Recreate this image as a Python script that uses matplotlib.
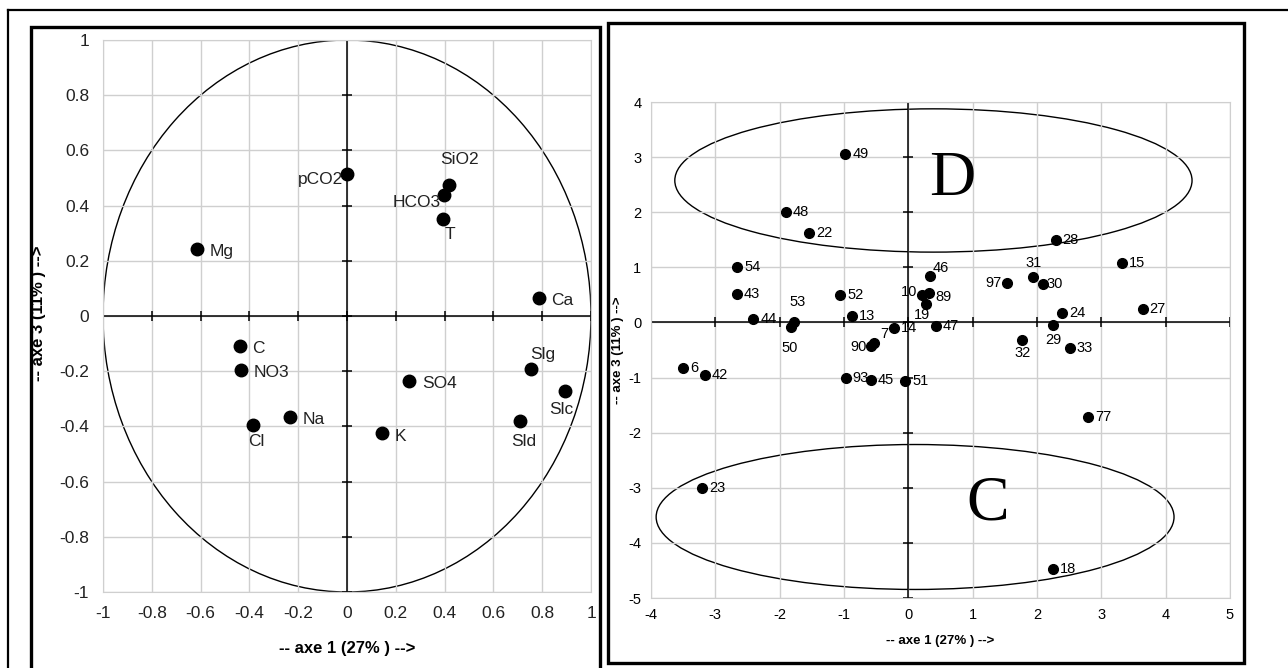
# -*- coding: utf-8 -*-
import numpy as np
import matplotlib
matplotlib.use('Agg')
import matplotlib.pyplot as plt
from matplotlib.patches import Circle, Ellipse, Rectangle
from matplotlib.lines import Line2D

plt.rcParams['font.family'] = ['Liberation Sans', 'DejaVu Sans']
plt.rcParams['axes.unicode_minus'] = False

# --- cercle des correlations (axe 1 / axe 3)
var_names = ['pCO2', 'SiO2', 'HCO3', 'T', 'Mg', 'Ca', 'C', 'NO3', 'SO4',
             'Slg', 'Slc', 'Sld', 'Na', 'Cl', 'K']
var_x = [0.00, 0.417, 0.396, 0.392, -0.614, 0.786, -0.439, -0.434, 0.255,
         0.753, 0.895, 0.708, -0.232, -0.384, 0.145]
var_y = [0.515, 0.476, 0.438, 0.351, 0.243, 0.065, -0.109, -0.194, -0.234,
         -0.191, -0.273, -0.381, -0.365, -0.394, -0.425]
# decalage des etiquettes (points) et alignement
var_off = {'pCO2': (-3, -4, 'right'), 'SiO2': (8, 18, 'center'),
           'HCO3': (-2, -5, 'right'), 'T': (5, -11, 'center'),
           'Cl': (2, -12, 'center'), 'Slg': (9, 10, 'center'),
           'Slc': (-3, -13, 'center'), 'Sld': (3, -15, 'center')}
ticks1 = [-1, -0.8, -0.6, -0.4, -0.2, 0, 0.2, 0.4, 0.6, 0.8, 1]

# --- individus (axe 1 / axe 3)
ind_names = ['49', '48', '22', '28', '54', '15', '46', '31', '97', '30', '43',
             '52', '10', '89', '19', '27', '24', '13', '44', '53', '50', '14',
             '47', '29', '7', '90', '32', '33', '6', '42', '93', '45', '51',
             '77', '23', '18']
ind_x = [-0.98, -1.90, -1.54, 2.29, -2.66, 3.32, 0.33, 1.94, 1.54, 2.09, -2.67,
         -1.06, 0.22, 0.32, 0.28, 3.64, 2.39, -0.87, -2.41, -1.77, -1.83, -0.22,
         0.43, 2.25, -0.53, -0.58, 1.77, 2.51, -3.50, -3.16, -0.97, -0.58, -0.05,
         2.80, -3.21, 2.25]
ind_y = [3.06, 2.01, 1.63, 1.49, 1.01, 1.07, 0.84, 0.82, 0.71, 0.70, 0.51,
         0.49, 0.50, 0.54, 0.33, 0.25, 0.18, 0.12, 0.07, 0.01, -0.09, -0.10,
         -0.06, -0.04, -0.38, -0.42, -0.31, -0.46, -0.82, -0.96, -1.01, -1.05, -1.07,
         -1.71, -3.00, -4.47]
ind_off = {'97': (-4, 0, 'right'), '31': (0, 10, 'center'), '30': (3, 0, 'left'),
           '10': (-4, 2, 'right'), '46': (2, 6, 'left'), '89': (5, -3, 'left'),
           '19': (-3, -8, 'center'), '53': (2, 14, 'center'), '50': (-1, -15, 'center'),
           '29': (0, -11, 'center'), '32': (0, -10, 'center'), '90': (-3, -1, 'right'),
           '7': (4, 7, 'left')}
xt2 = [-4, -3, -2, -1, 0, 1, 2, 3, 4, 5]
yt2 = [-5, -4, -3, -2, -1, 0, 1, 2, 3, 4]

# groupes (ellipses) : centre x, centre y, largeur, hauteur
groups = ['D', 'C']
group_cx = [0.39, 0.105]
group_cy = [2.576, -3.53]
group_w = [8.04, 8.05]
group_h = [2.60, 2.63]
group_lx = [0.68, 1.23]
group_ly = [2.58, -3.31]

W, H = 1288, 668
fig = plt.figure(figsize=(W / 100, H / 100), dpi=100)

def fx(px):
    return px / W

def fy(py):
    return 1 - py / H

# cadres
fig.add_artist(Line2D([fx(8), 1], [fy(10), fy(10)], color='k', lw=1.6))
fig.add_artist(Line2D([fx(8), fx(8)], [fy(10), 0], color='k', lw=1.6))
fig.add_artist(Rectangle((fx(31), fy(672)), fx(600 - 31), (672 - 27) / H,
                         fill=False, ec='k', lw=2.4))
fig.add_artist(Rectangle((fx(608), fy(663)), fx(1244 - 608), (663 - 23) / H,
                         fill=False, ec='k', lw=2.4))

grid_c = '#cfcfcf'

# ---------- panneau gauche
ax1 = fig.add_axes([fx(103), fy(592), fx(591 - 103), (592 - 40) / H])
ax1.set_xlim(-1, 1)
ax1.set_ylim(-1, 1)
ax1.set_xticks(ticks1)
ax1.set_yticks(ticks1)
ax1.set_xticklabels(['%g' % t for t in ticks1])
ax1.set_yticklabels(['%g' % t for t in ticks1])
ax1.tick_params(length=0, labelsize=12.5, pad=10, colors='#222222')
ax1.grid(True, color=grid_c, lw=1)
for s in ax1.spines.values():
    s.set_color(grid_c)
ax1.axhline(0, color='k', lw=1.1)
ax1.axvline(0, color='k', lw=1.1)
ax1.plot(ticks1, np.zeros(len(ticks1)), ls='none', marker='|', ms=7, mew=1.1, color='k')
ax1.plot(np.zeros(len(ticks1)), ticks1, ls='none', marker='_', ms=7, mew=1.1, color='k')
ax1.add_patch(Circle((0, 0), 1, fill=False, ec='k', lw=1.0))
ax1.plot(var_x, var_y, 'o', color='k', ms=9)
for n, x, y in zip(var_names, var_x, var_y):
    dx, dy, ha = var_off.get(n, (9, -2, 'left'))
    ax1.annotate(n, (x, y), xytext=(dx, dy), textcoords='offset points',
                 ha=ha, va='center', fontsize=12.5, color='#222222')
ax1.set_xlabel('-- axe 1 (27% ) -->', fontsize=12, fontweight='bold')
ax1.set_ylabel('-- axe 3 (11% ) -->', fontsize=12, fontweight='bold')
ax1.xaxis.set_label_coords(0.5, -0.088)
ax1.yaxis.set_label_coords(-0.117, 0.505)

# ---------- panneau droit
narrow = ['Liberation Sans Narrow', 'Liberation Sans', 'DejaVu Sans']
ax2 = fig.add_axes([fx(651), fy(598), fx(1230 - 651), (598 - 102) / H])
ax2.set_xlim(-4, 5)
ax2.set_ylim(-5, 4)
ax2.set_xticks(xt2)
ax2.set_yticks(yt2)
ax2.tick_params(length=0, labelsize=10.5, pad=7)
for lab in ax2.get_xticklabels() + ax2.get_yticklabels():
    lab.set_family(narrow)
ax2.grid(True, color=grid_c, lw=1)
for s in ax2.spines.values():
    s.set_color(grid_c)
ax2.axhline(0, color='k', lw=1.1)
ax2.axvline(0, color='k', lw=1.1)
ax2.plot(xt2, np.zeros(len(xt2)), ls='none', marker='|', ms=7, mew=1.1, color='k')
ax2.plot(np.zeros(len(yt2)), yt2, ls='none', marker='_', ms=7, mew=1.1, color='k')
for g, cx, cy, w, h, lx, ly in zip(groups, group_cx, group_cy, group_w, group_h,
                                   group_lx, group_ly):
    ax2.add_patch(Ellipse((cx, cy), w, h, fill=False, ec='k', lw=1.0))
    ax2.text(lx, ly, g, fontsize=46, family=['Liberation Serif', 'DejaVu Serif'],
             ha='center', va='center')
ax2.plot(ind_x, ind_y, 'o', color='k', ms=7)
for n, x, y in zip(ind_names, ind_x, ind_y):
    dx, dy, ha = ind_off.get(n, (5, 0, 'left'))
    ax2.annotate(n, (x, y), xytext=(dx, dy), textcoords='offset points',
                 ha=ha, va='center', fontsize=10.5, family=narrow)
ax2.set_xlabel('-- axe 1 (27% ) -->', fontsize=9.5, fontweight='bold', family=narrow)
ax2.set_ylabel('-- axe 3 (11% ) -->', fontsize=9.5, fontweight='bold', family=narrow)
ax2.xaxis.set_label_coords(0.5, -0.075)
ax2.yaxis.set_label_coords(-0.047, 0.5)

plt.savefig('out.png', dpi=100)
